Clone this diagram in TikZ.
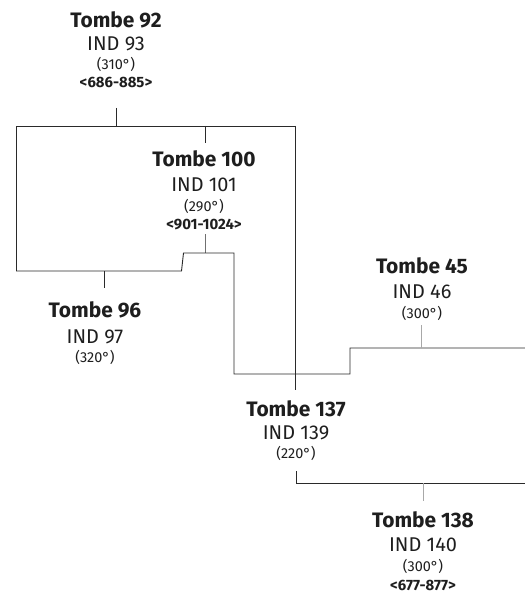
\documentclass[tikz,border=0pt]{standalone}
\usepackage{fontspec}
\setmainfont{Fira Sans}
\definecolor{linec}{HTML}{2A2A2A}
\definecolor{midc}{HTML}{707070}
\definecolor{lightc}{HTML}{A8A8A8}
\definecolor{txtc}{HTML}{1E1E1E}
\begin{document}
\begin{tikzpicture}[x=1bp,y=-1bp,
  ln/.style={draw=linec, line width=0.9bp},
  lm/.style={draw=midc, line width=0.8bp},
  lt/.style={draw=lightc, line width=0.8bp},
  tb/.style={font=\bfseries\fontsize{21}{23}\selectfont, inner sep=0, text=txtc},
  ind/.style={font=\fontsize{20}{22}\selectfont, inner sep=0, text=txtc},
  deg/.style={font=\fontsize{14.5}{16}\selectfont, inner sep=0, text=txtc},
  rng/.style={font=\bfseries\fontsize{15}{16}\selectfont, inner sep=0, text=txtc}]
\useasboundingbox[fill=white] (0,0) rectangle (525,595);
% Tombe 92
\node[tb]  (t92) at (116,20) {Tombe 92};
\node[ind] (i93) at (116,44) {IND 93};
\node[deg] (d93) at (116,64) {(310°)};
\node[rng] (r93) at (116,82) {<686-885>};
% Tombe 100
\node[tb]  (t100) at (204,159) {Tombe 100};
\node[ind] (i101) at (204,185) {IND 101};
\node[deg] (d101) at (204,206) {(290°)};
\node[rng] (r101) at (204,225) {<901-1024>};
% Tombe 96
\node[tb]  (t96) at (95,310) {Tombe 96};
\node[ind] (i97) at (95,337) {IND 97};
\node[deg] (d97) at (95,357) {(320°)};
% Tombe 45
\node[tb]  (t45) at (422,266) {Tombe 45};
\node[ind] (i46) at (422,292) {IND 46};
\node[deg] (d46) at (422,313) {(300°)};
% Tombe 137
\node[tb]  (t137) at (296,409) {Tombe 137};
\node[ind] (i139) at (296,433) {IND 139};
\node[deg] (d139) at (296,453) {(220°)};
% Tombe 138
\node[tb]  (t138) at (423,520) {Tombe 138};
\node[ind] (i140) at (423,545) {IND 140};
\node[deg] (d140) at (423,566) {(300°)};
\node[rng] (r140) at (423,585) {<677-877>};
% junction coordinates
\coordinate (s92) at (116,108);
\coordinate (j92) at (116,126);
\coordinate (tl) at (16,126);
\coordinate (tr) at (295,126);
\coordinate (j100a) at (205,126);
\coordinate (s100a) at (205,143);
\coordinate (s100b) at (205,234);
\coordinate (j100b) at (205,253);
\coordinate (bl) at (16,271);
\coordinate (j96) at (104,271);
\coordinate (s96) at (104,288);
\coordinate (st1) at (181.5,271);
\coordinate (st2) at (183.5,253);
\coordinate (br) at (234,253);
\coordinate (b137) at (234,374);
\coordinate (c45) at (350,374);
\coordinate (c45b) at (350,348);
\coordinate (e45) at (525,348);
\coordinate (j45) at (421,348);
\coordinate (s45) at (421,325);
\coordinate (s137) at (295,390);
\coordinate (s137b) at (296,471);
\coordinate (c138) at (296,483);
\coordinate (e138) at (525,483);
\coordinate (j138) at (423,483);
\coordinate (s138) at (423,501);
% lines
\draw[ln] (s92) -- (j92);
\draw[ln] (bl) -- (tl) -- (tr);
\draw[ln] (j100a) -- (s100a);
\draw[lm] (s100b) -- (j100b);
\draw[ln] (j96) -- (s96);
\draw[ln] (bl) -- (st1) -- (st2) -- (br) -- (b137) -- (c45) -- (c45b) -- (e45);
\draw[ln] (tr) -- (s137);
\draw[lt] (j45) -- (s45);
\draw[ln] (s137b) -- (c138) -- (e138);
\draw[lt] (j138) -- (s138);
\end{tikzpicture}
\end{document}
